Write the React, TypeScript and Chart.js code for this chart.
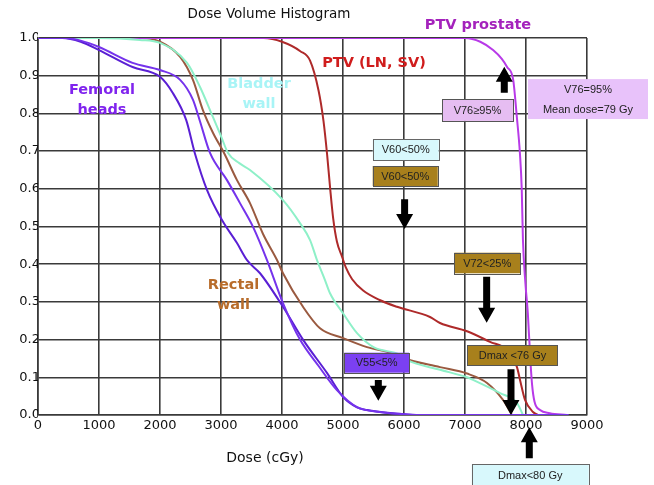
import React, { useEffect, useRef } from 'react';
import { Chart, registerables } from 'chart.js';

Chart.register(...registerables);

// ---- Data (dose in cGy, relative volume) ----
const femoralADose = [0, 450, 700, 1000, 1550, 2000, 2330, 2541, 2650, 2820, 3098, 3311, 3525, 3754, 4016, 4295, 4600, 4900, 5230, 5600, 6000, 6200, 8700];
const femoralAVol = [1, 1, 0.993, 0.976, 0.934, 0.915, 0.889, 0.836, 0.782, 0.695, 0.623, 0.562, 0.499, 0.411, 0.297, 0.2, 0.13, 0.066, 0.021, 0.008, 0.002, 0, 0];

const femoralBDose = [0, 400, 700, 1000, 1550, 2000, 2210, 2430, 2570, 2770, 3016, 3262, 3430, 3640, 4016, 4344, 4740, 5000, 5230, 5400, 5770, 6200];
const femoralBVol = [1, 1, 0.99, 0.968, 0.923, 0.897, 0.854, 0.782, 0.695, 0.597, 0.517, 0.456, 0.41, 0.376, 0.287, 0.2, 0.111, 0.048, 0.02, 0.013, 0.005, 0];

const bladderDose = [0, 1000, 1670, 2000, 2443, 2656, 2869, 3000, 3115, 3300, 3475, 4016, 4295, 4460, 4574, 4700, 4787, 5000, 5230, 5500, 5934, 6049, 6590, 7033, 7131, 7574, 7852, 7951];
const bladderVol = [1, 1, 0.995, 0.987, 0.934, 0.87, 0.79, 0.74, 0.695, 0.668, 0.65, 0.57, 0.509, 0.464, 0.411, 0.36, 0.323, 0.27, 0.217, 0.18, 0.16, 0.146, 0.12, 0.1, 0.093, 0.058, 0.032, 0];

const rectalDose = [0, 1700, 2000, 2330, 2540, 2700, 2870, 3050, 3262, 3475, 3689, 3918, 4016, 4344, 4623, 5000, 5393, 5770, 6000, 6590, 7033, 7361, 7623, 7770];
const rectalVol = [1, 1, 0.99, 0.95, 0.889, 0.81, 0.748, 0.695, 0.623, 0.562, 0.48, 0.411, 0.376, 0.287, 0.23, 0.204, 0.18, 0.165, 0.15, 0.127, 0.11, 0.085, 0.04, 0];

const ptvNodesDose = [0, 3700, 4000, 4300, 4460, 4600, 4680, 4740, 4790, 4840, 4900, 4984, 5050, 5150, 5330, 5600, 5885, 6426, 6590, 7033, 7410, 7689, 7852, 7902, 7984, 8115, 8200];
const ptvNodesVol = [1, 1, 0.99, 0.965, 0.94, 0.86, 0.78, 0.69, 0.6, 0.52, 0.46, 0.42, 0.39, 0.36, 0.33, 0.305, 0.287, 0.26, 0.244, 0.222, 0.194, 0.172, 0.127, 0.093, 0.04, 0.008, 0];

const ptvProstateDose = [0, 7000, 7250, 7460, 7600, 7690, 7790, 7850, 7900, 7930, 7950, 7990, 8030, 8070, 8100, 8140, 8230, 8390, 8670];
const ptvProstateVol = [1, 1, 0.99, 0.968, 0.945, 0.923, 0.889, 0.79, 0.695, 0.6, 0.464, 0.35, 0.27, 0.15, 0.08, 0.035, 0.013, 0.005, 0];

const xTickStep = 1000;
const yTickStep = 0.1;

const toPoints = (d: number[], v: number[]) => d.map((x, i) => ({ x, y: v[i] }));

const FONT = "'DejaVu Sans', Verdana, sans-serif";
const BOXFONT = "'Liberation Sans', Arial, sans-serif";

// Annotation definitions in data coordinates (dose cGy, volume)
const seriesLabels = [
  { lines: ['PTV prostate'], x: 7213, y: 1.0345, color: '#a422bc' },
  { lines: ['PTV (LN, SV)'], x: 5508, y: 0.934, color: '#d01c1c' },
  { lines: ['Femoral', 'heads'], x: 1049, y: 0.862, color: '#8024ee' },
  { lines: ['Bladder', 'wall'], x: 3623, y: 0.878, color: '#a8f4f6' },
  { lines: ['Rectal', 'wall'], x: 3205, y: 0.343, color: '#b86c2a' },
];

const boxes = [
  { lines: ['V76\u226595%'], x0: 6623, x1: 7786, y0: 0.8375, y1: 0.78, fill: '#e6bdf2', stroke: '#555' },
  { lines: ['V76=95%', 'Mean dose=79 Gy'], x0: 8033, x1: 10000, y0: 0.891, y1: 0.785, fill: '#e8c2fa', stroke: null },
  { lines: ['V60<50%'], x0: 5487, x1: 6569, y0: 0.7313, y1: 0.6764, fill: '#d8f8fc', stroke: '#666' },
  { lines: ['V60<50%'], x0: 5487, x1: 6553, y0: 0.6605, y1: 0.6074, fill: '#a8801c', stroke: '#555' },
  { lines: ['V72<25%'], x0: 6825, x1: 7902, y0: 0.4305, y1: 0.3759, fill: '#a8801c', stroke: '#555' },
  { lines: ['Dmax <76 Gy'], x0: 7038, x1: 8520, y0: 0.1857, y1: 0.1326, fill: '#a8801c', stroke: '#555' },
  { lines: ['V55<5%'], x0: 5021, x1: 6082, y0: 0.1653, y1: 0.1122, fill: '#7b40f2', stroke: '#555' },
  { lines: ['Dmax<80 Gy'], x0: 7110, x1: 9028, y0: -0.13, y1: -0.2, fill: '#d8f8fc', stroke: '#666' },
];

const arrows = [
  { x: 6010, from: 0.5721, to: 0.4934 },
  { x: 7355, from: 0.3669, to: 0.2448 },
  { x: 7754, from: 0.1212, to: 0.0 },
  { x: 5579, from: 0.0928, to: 0.038 },
  { x: 8054, from: -0.1149, to: -0.0326 },
  { x: 7644, from: 0.855, to: 0.924 },
];

const overlayPlugin = {
  id: 'overlay',
  afterDraw(chart: any) {
    const { ctx, scales, chartArea } = chart;
    const xs = scales.x;
    const ys = scales.y;
    ctx.save();

    // Title
    ctx.fillStyle = '#111';
    ctx.font = `13.5px ${FONT}`;
    ctx.textAlign = 'center';
    ctx.textBaseline = 'middle';
    ctx.fillText('Dose Volume Histogram', 269, chartArea.top - 24);
    // X axis title
    ctx.font = `14px ${FONT}`;
    ctx.fillText('Dose (cGy)', 265, chartArea.bottom + 43);

    // Series labels
    ctx.font = `bold 14.5px ${FONT}`;
    for (const l of seriesLabels) {
      ctx.fillStyle = l.color;
      const cx = xs.getPixelForValue(l.x);
      const cy = ys.getPixelForValue(l.y);
      l.lines.forEach((t, i) => ctx.fillText(t, cx, cy + i * 20));
    }

    // Arrows
    ctx.fillStyle = '#000';
    for (const a of arrows) {
      const cx = xs.getPixelForValue(a.x);
      const y0 = ys.getPixelForValue(a.from);
      const y1 = ys.getPixelForValue(a.to);
      const dir = y1 > y0 ? 1 : -1;
      const headLen = 15;
      const shaftW = 7;
      const headW = 17;
      const yh = y1 - dir * headLen;
      ctx.beginPath();
      ctx.moveTo(cx - shaftW / 2, y0);
      ctx.lineTo(cx + shaftW / 2, y0);
      ctx.lineTo(cx + shaftW / 2, yh);
      ctx.lineTo(cx + headW / 2, yh);
      ctx.lineTo(cx, y1);
      ctx.lineTo(cx - headW / 2, yh);
      ctx.lineTo(cx - shaftW / 2, yh);
      ctx.closePath();
      ctx.fill();
    }

    // Boxes
    ctx.font = `11px ${BOXFONT}`;
    for (const b of boxes) {
      const x0 = xs.getPixelForValue(b.x0);
      const x1 = xs.getPixelForValue(b.x1);
      const y0 = ys.getPixelForValue(b.y0);
      const y1 = ys.getPixelForValue(b.y1);
      ctx.fillStyle = b.fill;
      ctx.fillRect(x0, y0, x1 - x0, y1 - y0);
      if (b.stroke) {
        ctx.strokeStyle = b.stroke;
        ctx.lineWidth = 1;
        ctx.strokeRect(Math.round(x0) + 0.5, Math.round(y0) + 0.5, Math.round(x1 - x0), Math.round(y1 - y0));
      }
      ctx.fillStyle = '#222';
      const cx = (x0 + x1) / 2;
      if (b.lines.length === 1) {
        const cy = b.y1 < -0.15 ? y0 + 11 : (y0 + y1) / 2;
        ctx.fillText(b.lines[0], cx, cy + 0.5);
      } else {
        ctx.fillText(b.lines[0], cx, y0 + 10.5);
        ctx.fillText(b.lines[1], cx, y0 + 31);
      }
    }
    ctx.restore();
  },
};

export default function App() {
  const canvasRef = useRef<HTMLCanvasElement | null>(null);

  useEffect(() => {
    const canvas = canvasRef.current;
    if (!canvas) return;
    const common = { pointRadius: 0, borderWidth: 2, fill: false, cubicInterpolationMode: 'monotone' as const };
    const chart = new Chart(canvas, {
      type: 'line',
      data: {
        datasets: [
          { label: 'Femoral head A', data: toPoints(femoralADose, femoralAVol), borderColor: '#7533ec', ...common },
          { label: 'Femoral head B', data: toPoints(femoralBDose, femoralBVol), borderColor: '#5a1fd4', ...common },
          { label: 'Bladder wall', data: toPoints(bladderDose, bladderVol), borderColor: '#8ef0c8', ...common },
          { label: 'PTV prostate', data: toPoints(ptvProstateDose, ptvProstateVol), borderColor: '#b83ae8', ...common },
          { label: 'Rectal wall', data: toPoints(rectalDose, rectalVol), borderColor: '#9a5a40', ...common },
          { label: 'PTV (LN, SV)', data: toPoints(ptvNodesDose, ptvNodesVol), borderColor: '#ae2a2a', ...common },
        ],
      },
      options: {
        responsive: false,
        animation: false,
        parsing: false as any,
        layout: { padding: { top: 38, right: 67, left: 0, bottom: 0 } },
        plugins: {
          legend: { display: false },
          tooltip: { enabled: false },
          title: { display: false },
        },
        scales: {
          x: {
            type: 'linear',
            min: 0,
            max: 9000,
            afterFit: (s: any) => { s.height = 70; },
            ticks: {
              stepSize: xTickStep,
              color: '#111',
              font: { family: FONT, size: 13 },
              padding: 3,
              maxRotation: 0,
              autoSkip: false,
              callback: (v: any) => String(v),
            },
            grid: { color: '#3a3a3a', lineWidth: 1.6, drawTicks: false },
            border: { color: '#3a3a3a', width: 1.6 },
          },
          y: {
            type: 'linear',
            min: 0,
            max: 1,
            afterFit: (s: any) => { s.width = 38; },
            ticks: {
              stepSize: yTickStep,
              color: '#111',
              font: { family: FONT, size: 13 },
              padding: -2,
              callback: (v: any) => Number(v).toFixed(1),
            },
            grid: { color: '#3a3a3a', lineWidth: 1.6, drawTicks: false },
            border: { color: '#3a3a3a', width: 1.6 },
          },
        },
      },
      plugins: [overlayPlugin],
    });
    return () => chart.destroy();
  }, []);

  return (
    <div style={{ position: 'absolute', left: 0, top: 0, width: 654, height: 485, background: '#fff' }}>
      <canvas ref={canvasRef} width={654} height={485} />
    </div>
  );
}
